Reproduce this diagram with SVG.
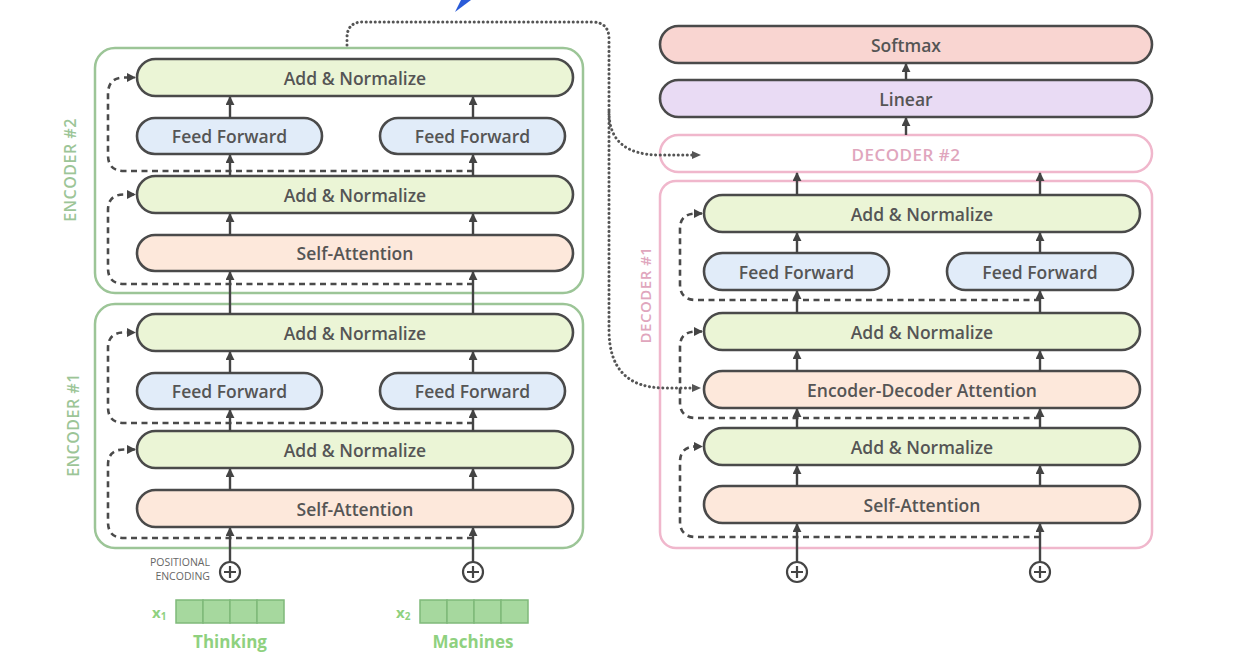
<svg xmlns="http://www.w3.org/2000/svg" width="1234" height="666" viewBox="0 0 1234 666">
<style>
.box{stroke:#4a4a4a;stroke-width:2.6}
.an{fill:#ebf5d6}
.ff{fill:#e1ecf9}
.sa{fill:#fde8db}
.lbl{font-family:"Open Sans","Noto Sans",sans-serif;font-size:17.5px;font-weight:600;fill:#555;text-anchor:middle;dominant-baseline:central}
.encbox{fill:none;stroke:#9cc597;stroke-width:2.5}
.decbox{fill:none;stroke:#f0b7cc;stroke-width:2.5}
.enclbl{font-family:"Open Sans","Noto Sans",sans-serif;font-size:16px;font-weight:600;fill:#9cc597;text-anchor:middle;dominant-baseline:central;letter-spacing:0.5px}
.declbl{font-family:"Open Sans","Noto Sans",sans-serif;font-size:15px;font-weight:600;fill:#e0a6bd;text-anchor:middle;dominant-baseline:central;letter-spacing:0.5px}
.arr{stroke:#444;stroke-width:2.4;fill:none;marker-end:url(#ah)}
.res{stroke:#4a4a4a;stroke-width:2.6;fill:none;stroke-dasharray:6 4.5;marker-end:url(#ah)}
.dot{stroke:#555;stroke-width:3;fill:none;stroke-dasharray:0.1 4.4;stroke-linecap:round}
.plus{fill:#fff;stroke:#444;stroke-width:2.2}
.cell{fill:#a6d89e;stroke:#7fb97a;stroke-width:1.5}
.word{font-family:"Open Sans","Noto Sans",sans-serif;font-size:17px;font-weight:bold;fill:#8fd17f;text-anchor:middle}
.pos{font-family:"Open Sans","Noto Sans",sans-serif;font-size:10.5px;fill:#666;text-anchor:end}
</style>
<defs>
<marker id="ah" viewBox="0 0 10 10" refX="9" refY="5" markerWidth="9" markerHeight="9" markerUnits="userSpaceOnUse" orient="auto">
<path d="M0,0 L10,5 L0,10 z" fill="#444"/>
</marker>
</defs>

<!-- blue mark -->
<path d="M455,12 L461,0 L471,0 Z" fill="#2a5bd8"/>

<!-- Encoder #2 -->
<g id="encoder2">
<rect class="encbox" x="95" y="48" width="488" height="245" rx="20"/>
<text class="enclbl" transform="translate(70,170) rotate(-90)">ENCODER #2</text>
<g id="e2-an2"><rect class="box an" x="137" y="59" width="436" height="37" rx="18.5"/><text class="lbl" x="355" y="77.5">Add &amp; Normalize</text></g>
<g id="e2-ff1"><rect class="box ff" x="137" y="118" width="185" height="36" rx="18"/><text class="lbl" x="229.5" y="136">Feed Forward</text></g>
<g id="e2-ff2"><rect class="box ff" x="380" y="118" width="185" height="36" rx="18"/><text class="lbl" x="472.5" y="136">Feed Forward</text></g>
<g id="e2-an1"><rect class="box an" x="137" y="176" width="436" height="37" rx="18.5"/><text class="lbl" x="355" y="194.5">Add &amp; Normalize</text></g>
<g id="e2-sa"><rect class="box sa" x="137" y="235" width="436" height="36" rx="18"/><text class="lbl" x="355" y="253">Self-Attention</text></g>
</g>

<!-- Encoder #1 -->
<g id="encoder1">
<rect class="encbox" x="95" y="304" width="488" height="244" rx="20"/>
<text class="enclbl" transform="translate(73,425) rotate(-90)">ENCODER #1</text>
<g id="e1-an2"><rect class="box an" x="137" y="314" width="436" height="37" rx="18.5"/><text class="lbl" x="355" y="332.5">Add &amp; Normalize</text></g>
<g id="e1-ff1"><rect class="box ff" x="137" y="373" width="185" height="36" rx="18"/><text class="lbl" x="229.5" y="391">Feed Forward</text></g>
<g id="e1-ff2"><rect class="box ff" x="380" y="373" width="185" height="36" rx="18"/><text class="lbl" x="472.5" y="391">Feed Forward</text></g>
<g id="e1-an1"><rect class="box an" x="137" y="431" width="436" height="37" rx="18.5"/><text class="lbl" x="355" y="449.5">Add &amp; Normalize</text></g>
<g id="e1-sa"><rect class="box sa" x="137" y="490" width="436" height="37" rx="18.5"/><text class="lbl" x="355" y="508.5">Self-Attention</text></g>
</g>

<!-- Inputs -->
<g id="inputs">
<text class="pos" x="210" y="566">POSITIONAL</text>
<text class="pos" x="210" y="580">ENCODING</text>
<g id="pe1"><circle class="plus" cx="230" cy="572" r="10"/><path d="M230,566 V578 M224,572 H236" stroke="#444" stroke-width="2.2"/></g>
<g id="pe2"><circle class="plus" cx="473" cy="572" r="10"/><path d="M473,566 V578 M467,572 H479" stroke="#444" stroke-width="2.2"/></g>
<g id="pe3"><circle class="plus" cx="797" cy="572" r="10"/><path d="M797,566 V578 M791,572 H803" stroke="#444" stroke-width="2.2"/></g>
<g id="pe4"><circle class="plus" cx="1040" cy="572" r="10"/><path d="M1040,566 V578 M1034,572 H1046" stroke="#444" stroke-width="2.2"/></g>
<g id="x1">
<text x="152" y="618" font-family="'Open Sans','Noto Sans',sans-serif" font-size="15" font-weight="bold" fill="#8fd17f">x<tspan font-size="10" dy="2">1</tspan></text>
<rect class="cell" x="176" y="600" width="27" height="23"/><rect class="cell" x="203" y="600" width="27" height="23"/><rect class="cell" x="230" y="600" width="27" height="23"/><rect class="cell" x="257" y="600" width="27" height="23"/>
<text class="word" x="230" y="648">Thinking</text>
</g>
<g id="x2">
<text x="396" y="618" font-family="'Open Sans','Noto Sans',sans-serif" font-size="15" font-weight="bold" fill="#8fd17f">x<tspan font-size="10" dy="2">2</tspan></text>
<rect class="cell" x="420" y="600" width="27" height="23"/><rect class="cell" x="447" y="600" width="27" height="23"/><rect class="cell" x="474" y="600" width="27" height="23"/><rect class="cell" x="501" y="600" width="27" height="23"/>
<text class="word" x="473" y="648">Machines</text>
</g>
</g>

<!-- Decoder side -->
<g id="softmax"><rect class="box" fill="#f9d5d1" x="660" y="26" width="492" height="37" rx="18.5"/><text class="lbl" x="906" y="44.5">Softmax</text></g>
<g id="linear"><rect class="box" fill="#e9dbf4" x="660" y="80" width="492" height="37" rx="18.5"/><text class="lbl" x="906" y="98.5">Linear</text></g>
<g id="decoder2"><rect class="decbox" fill="#fff" x="660" y="135" width="492" height="37" rx="18.5"/><text class="declbl" x="906" y="154" style="font-size:17px">DECODER #2</text></g>

<g id="decoder1">
<rect class="decbox" x="660" y="181" width="492" height="367" rx="16"/>
<text class="declbl" transform="translate(645,295) rotate(-90)">DECODER #1</text>
<g id="d1-an3"><rect class="box an" x="704" y="195" width="436" height="37" rx="18.5"/><text class="lbl" x="922" y="213.5">Add &amp; Normalize</text></g>
<g id="d1-ff1"><rect class="box ff" x="704" y="253" width="185" height="37" rx="18.5"/><text class="lbl" x="796.5" y="271.5">Feed Forward</text></g>
<g id="d1-ff2"><rect class="box ff" x="947" y="253" width="186" height="37" rx="18.5"/><text class="lbl" x="1040" y="271.5">Feed Forward</text></g>
<g id="d1-an2"><rect class="box an" x="704" y="313" width="436" height="37" rx="18.5"/><text class="lbl" x="922" y="331.5">Add &amp; Normalize</text></g>
<g id="d1-eda"><rect class="box sa" x="704" y="371" width="436" height="37" rx="18.5"/><text class="lbl" x="922" y="389.5">Encoder-Decoder Attention</text></g>
<g id="d1-an1"><rect class="box an" x="704" y="428" width="436" height="37" rx="18.5"/><text class="lbl" x="922" y="446.5">Add &amp; Normalize</text></g>
<g id="d1-sa"><rect class="box sa" x="704" y="486" width="436" height="37" rx="18.5"/><text class="lbl" x="922" y="504.5">Self-Attention</text></g>
</g>

<!-- Connectors -->
<g id="connectors">
<path class="res" d="M473,284 H124 Q108,284 108,268 V210 Q108,194.5 124,194.5 H135"/>
<path class="res" d="M473,171 H124 Q108,171 108,155 V94 Q108,77.5 124,77.5 H135"/>
<path class="res" d="M473,538 H124 Q108,538 108,522 V465 Q108,449.5 124,449.5 H135"/>
<path class="res" d="M473,423 H124 Q108,423 108,407 V348 Q108,332.5 124,332.5 H135"/>
<path class="res" d="M1040,537 H696 Q680,537 680,521 V462 Q680,446.5 696,446.5 H702"/>
<path class="res" d="M1040,418 H696 Q680,418 680,402 V347 Q680,331.5 696,331.5 H702"/>
<path class="res" d="M1040,300 H696 Q680,300 680,284 V229 Q680,213.5 696,213.5 H702"/>

<line class="arr" x1="230" y1="562" x2="230" y2="528"/>
<line class="arr" x1="473" y1="562" x2="473" y2="528"/>
<line class="arr" x1="230" y1="490" x2="230" y2="469"/>
<line class="arr" x1="473" y1="490" x2="473" y2="469"/>
<line class="arr" x1="230" y1="431" x2="230" y2="410"/>
<line class="arr" x1="473" y1="431" x2="473" y2="410"/>
<line class="arr" x1="230" y1="373" x2="230" y2="352"/>
<line class="arr" x1="473" y1="373" x2="473" y2="352"/>
<line class="arr" x1="230" y1="314" x2="230" y2="272"/>
<line class="arr" x1="473" y1="314" x2="473" y2="272"/>
<line class="arr" x1="230" y1="235" x2="230" y2="214"/>
<line class="arr" x1="473" y1="235" x2="473" y2="214"/>
<line class="arr" x1="230" y1="176" x2="230" y2="155"/>
<line class="arr" x1="473" y1="176" x2="473" y2="155"/>
<line class="arr" x1="230" y1="118" x2="230" y2="97"/>
<line class="arr" x1="473" y1="118" x2="473" y2="97"/>

<line class="arr" x1="797" y1="562" x2="797" y2="524"/>
<line class="arr" x1="1040" y1="562" x2="1040" y2="524"/>
<line class="arr" x1="797" y1="486" x2="797" y2="466"/>
<line class="arr" x1="1040" y1="486" x2="1040" y2="466"/>
<line class="arr" x1="797" y1="428" x2="797" y2="409"/>
<line class="arr" x1="1040" y1="428" x2="1040" y2="409"/>
<line class="arr" x1="797" y1="371" x2="797" y2="351"/>
<line class="arr" x1="1040" y1="371" x2="1040" y2="351"/>
<line class="arr" x1="797" y1="313" x2="797" y2="291"/>
<line class="arr" x1="1040" y1="313" x2="1040" y2="291"/>
<line class="arr" x1="797" y1="253" x2="797" y2="233"/>
<line class="arr" x1="1040" y1="253" x2="1040" y2="233"/>
<line class="arr" x1="797" y1="195" x2="797" y2="173"/>
<line class="arr" x1="1040" y1="195" x2="1040" y2="173"/>
<line class="arr" x1="906" y1="135" x2="906" y2="118"/>
<line class="arr" x1="906" y1="80" x2="906" y2="64"/>

<path class="dot" d="M347,45 V38 Q347,22 363,22 H592 Q609,22 609,39 V330 Q609,388 665,388 H692"/>
<path class="dot" d="M609,112 Q609,155 660,155 H692"/>
<path d="M692,151 L701,155 L692,159 z" fill="#555"/>
<path d="M692,384 L701,388 L692,392 z" fill="#555"/>
</g>
</svg>
